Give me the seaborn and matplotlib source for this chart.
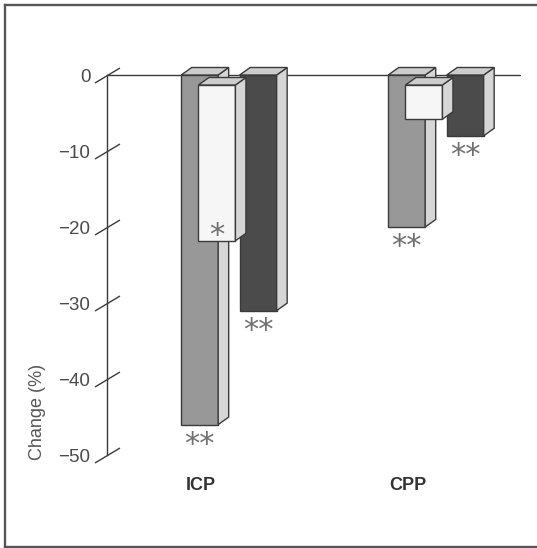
import matplotlib
matplotlib.use("Agg")
import matplotlib.pyplot as plt
from matplotlib.patches import Polygon
from matplotlib.lines import Line2D
import pandas as pd
import seaborn as sns

# Percentage change per measure and condition
groups = ["ICP", "CPP"]
grey_values = [-46, -20]      # back row, mid grey
white_values = [-20.5, -4.5]  # front row, white
dark_values = [-31, -8]       # back row, dark grey
grey_marks = ["**", "**"]
white_marks = ["*", ""]
dark_marks = ["**", "**"]
tick_values = [0, -10, -20, -30, -40, -50]
tick_labels = ["0", "\u221210", "\u221220", "\u221230", "\u221240", "\u221250"]

GREY = "#989898"
DARK = "#4b4b4b"
WHITE = "#f6f6f6"
SIDE = "#d6d6d6"
LID = "#cdcdcd"
EDGE = "#3a3a3a"
TEXT = "#4a4a4a"

sns.set_theme(style="white")
plt.rcParams["font.family"] = ["Liberation Sans", "DejaVu Sans"]

W, H = 537, 548
fig = plt.figure(figsize=(W / 100, H / 100), dpi=100, frameon=False)
ax = fig.add_axes([107 / W, 93 / H, 413 / W, 380 / H])

back = pd.DataFrame({
    "group": groups * 2,
    "series": ["grey"] * 2 + ["dark"] * 2,
    "value": grey_values + dark_values,
})
front = pd.DataFrame({"group": groups, "value": white_values})

sns.barplot(data=back, x="group", y="value", hue="series", order=groups,
            hue_order=["grey", "dark"], palette=[GREY, DARK], width=0.565,
            gap=0.3675, saturation=1, errorbar=None, legend=False,
            edgecolor=EDGE, linewidth=1.0, zorder=2, ax=ax)
back_bars = list(ax.patches)
sns.barplot(data=front, x="group", y="value", order=groups, color=WHITE,
            width=0.1787, saturation=1, errorbar=None, edgecolor=EDGE,
            linewidth=1.0, zorder=4, ax=ax)
front_bars = list(ax.patches)[len(back_bars):]

ax.set_xlim(-0.589, 1.406)
ax.set_ylim(-50, 0)
ax.set_xlabel("")

# pixel scale of the data axes, used for the oblique depth of each bar
x0p, y0p = ax.transData.transform((0, 0))
px_x = ax.transData.transform((1, 0))[0] - x0p
px_y = ax.transData.transform((0, 1))[1] - y0p
ddx, ddy = 10.5 / px_x, 7.5 / px_y

# front row sits one step nearer the viewer
for p in front_bars:
    p.set_x(p.get_x() - 12 / px_x)
    p.set_y(p.get_y() - 10 / px_y)


def add_depth(p, z):
    x, w = p.get_x(), p.get_width()
    y, h = p.get_y(), p.get_height()
    top, bot = max(y, y + h), min(y, y + h)
    side = Polygon([(x + w, top), (x + w, bot), (x + w + ddx, bot + ddy),
                    (x + w + ddx, top + ddy)], closed=True, fc=SIDE, ec=EDGE,
                   lw=1.0, zorder=z, clip_on=False, joinstyle="miter")
    lid = Polygon([(x, top), (x + w, top), (x + w + ddx, top + ddy),
                   (x + ddx, top + ddy)], closed=True, fc=LID, ec=EDGE,
                  lw=1.0, zorder=z, clip_on=False, joinstyle="miter")
    ax.add_patch(side)
    ax.add_patch(lid)
    p.set_clip_on(False)


for p in back_bars:
    add_depth(p, 2)
for p in front_bars:
    add_depth(p, 4)

# significance marks
star_style = dict(textcoords="offset pixels", ha="center", va="baseline",
                  fontsize=22, color="#707070", family="DejaVu Sans",
                  zorder=6, annotation_clip=False)
marks = grey_marks + dark_marks
for p, m in zip(back_bars, marks):
    cx = p.get_x() + p.get_width() / 2
    ax.annotate(m, xy=(cx, p.get_y() + p.get_height()), xytext=(0, -28),
                **star_style)
for p, m in zip(front_bars, white_marks):
    if not m:
        continue
    cx = p.get_x() + p.get_width() / 2
    ax.annotate(m, xy=(cx, p.get_y() + p.get_height()), xytext=(0, -3),
                **star_style)

# baseline at zero, behind the bars
ax.axhline(0, color=EDGE, lw=1.0, zorder=1, clip_on=False)

# value axis with slanted tick marks
for s in ["top", "right", "bottom"]:
    ax.spines[s].set_visible(False)
ax.spines["left"].set_color(EDGE)
ax.spines["left"].set_linewidth(1.0)
ax.set_yticks(tick_values)
ax.set_yticklabels(tick_labels)
ax.tick_params(axis="y", length=0, pad=12, labelsize=13.5, labelcolor=TEXT)
ax.plot([ax.get_xlim()[0]] * len(tick_values), tick_values, ls="none",
        marker=[(-1, -0.6), (1, 0.6)], ms=18, mew=1.0, mfc="none",
        color=EDGE, clip_on=False, zorder=3)
ax.set_ylabel("Change (%)", fontsize=13, color="#555555", va="center")
ax.yaxis.set_label_coords(-0.168, 0.113)

# category names under the bar groups
ax.set_xticks([])
for i, g in enumerate(groups):
    ax.annotate(g, xy=(i, 0), xycoords=("data", "axes fraction"),
                xytext=(-28, -31), textcoords="offset pixels", ha="center",
                va="center", fontsize=13, fontweight="bold", color="#333333",
                annotation_clip=False)

# outer frame: top, left and bottom edges as separate strokes
fx = 5 / W
fy0, fy1 = 1.5 / H, 1 - 5 / H
frame_style = dict(transform=fig.transFigure, color="#555555", lw=1.7,
                   solid_capstyle="projecting")
fig.add_artist(Line2D([fx, 0.998], [fy1, fy1], **frame_style))
fig.add_artist(Line2D([fx, 0.998], [fy0, fy0], **frame_style))
fig.add_artist(Line2D([fx, fx], [fy0, fy1], **frame_style))

fig.savefig("out.png", dpi=100, facecolor="white")
